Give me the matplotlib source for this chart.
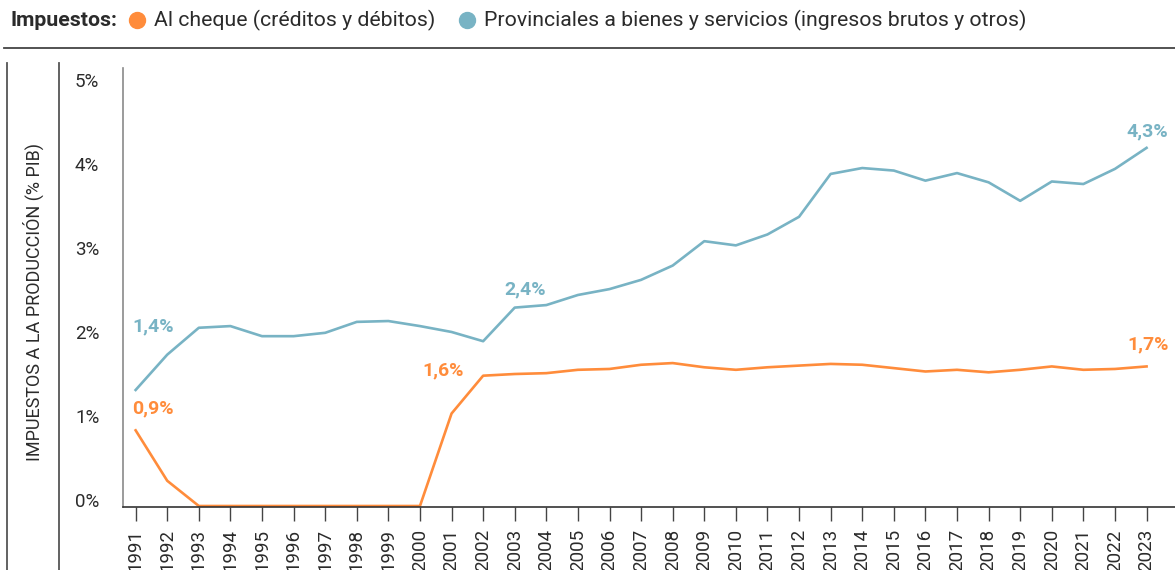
import matplotlib
matplotlib.use("Agg")
import matplotlib.pyplot as plt
import matplotlib.transforms as mtransforms
from matplotlib.lines import Line2D

plt.rcParams['font.family'] = ['Roboto', 'DejaVu Sans']

years = list(range(1991, 2024))
cheque = [0.90, 0.30, 0.00, 0.00, 0.00, 0.00, 0.00, 0.00, 0.00, 0.00,
          1.10, 1.55, 1.57, 1.58, 1.62, 1.63, 1.68, 1.70, 1.65, 1.62,
          1.65, 1.67, 1.69, 1.68, 1.64, 1.60, 1.62, 1.59, 1.62, 1.66,
          1.62, 1.63, 1.66]
provinciales = [1.38, 1.80, 2.12, 2.14, 2.02, 2.02, 2.06, 2.19, 2.20, 2.14,
                2.07, 1.96, 2.36, 2.39, 2.51, 2.58, 2.69, 2.86, 3.15, 3.10,
                3.23, 3.44, 3.95, 4.02, 3.99, 3.87, 3.96, 3.85, 3.63, 3.86,
                3.83, 4.01, 4.26]
series_names = ["Al cheque (créditos y débitos)",
                "Provinciales a bienes y servicios (ingresos brutos y otros)"]
yticks = [0, 1, 2, 3, 4, 5]
ytick_labels = ["0%", "1%", "2%", "3%", "4%", "5%"]

ORANGE = "#FF8C3B"
BLUE = "#78B3C4"
DARK = "#2b2b2b"
W, H = 1175, 570

fig = plt.figure(figsize=(W / 100, H / 100), dpi=100)
ax = fig.add_axes([123 / W, 1 - 507 / H, 1 - 123 / W, (507 - 68) / H])

ax.plot(years, cheque, color=ORANGE, lw=1.9)
ax.plot(years, provinciales, color=BLUE, lw=1.9)

ax.set_xlim(1990.6, 2023.9)
ax.set_ylim(-0.012, 5.21)
ax.set_xticks(years)
ax.set_xticklabels([str(y) for y in years], rotation=90, fontsize=13.5, color=DARK)
ax.set_yticks(yticks)
ax.set_yticklabels(ytick_labels, fontsize=13.5, color=DARK)
ax.tick_params(axis='y', length=0, pad=17)
ax.tick_params(axis='x', length=10, width=1, color="#444", pad=6)

# nudge y labels up a bit like the reference
offset = mtransforms.ScaledTranslation(0, 6 / 100, fig.dpi_scale_trans)
for lab in ax.get_yticklabels():
    lab.set_transform(lab.get_transform() + offset)

for s in ["top", "right"]:
    ax.spines[s].set_visible(False)
ax.spines["left"].set_color("#8a8a8a")
ax.spines["left"].set_linewidth(1.2)
ax.spines["bottom"].set_color("#333333")
ax.spines["bottom"].set_linewidth(1.2)

# value labels
kw = dict(fontsize=14, fontweight='bold', va='center')
ax.text(1990.9, 2.14, "1,4%", color=BLUE, ha='left', **kw)
ax.text(1990.9, 1.155, "0,9%", color=ORANGE, ha='left', **kw)
ax.text(2001.4, 1.61, "1,6%", color=ORANGE, ha='right', **kw)
ax.text(2002.68, 2.58, "2,4%", color=BLUE, ha='left', **kw)
ax.text(2023.7, 4.45, "4,3%", color=BLUE, ha='right', **kw)
ax.text(2023.7, 1.92, "1,7%", color=ORANGE, ha='right', **kw)

# legend, laid out left to right
renderer = fig.canvas.get_renderer()
ly = 1 - 20 / H
t = fig.text(10 / W, ly, "Impuestos:", fontsize=15.3, fontweight='bold',
             color=DARK, ha='left', va='center')
x = t.get_window_extent(renderer).x1 + 12
for name, col in zip(series_names, [ORANGE, BLUE]):
    fig.add_artist(Line2D([(x + 8) / W], [ly], color=col, marker='o', ls='', ms=11.5,
                          transform=fig.transFigure))
    t = fig.text((x + 25) / W, ly, name, fontsize=15.3, color=DARK,
                 ha='left', va='center')
    x = t.get_window_extent(renderer).x1 + 24

# rules
fig.add_artist(Line2D([4 / W, 1], [1 - 48 / H] * 2, color="#444", lw=1.3))
fig.add_artist(Line2D([7 / W] * 2, [0, 1 - 63 / H], color="#555", lw=1.3))
fig.add_artist(Line2D([59 / W] * 2, [0, 1 - 63 / H], color="#555", lw=1.3))

fig.text(33 / W, 1 - 302 / H, "IMPUESTOS A LA PRODUCCIÓN (% PIB)", rotation=90,
         fontsize=13, color=DARK, ha='center', va='center')

fig.savefig("out.png", dpi=100)
